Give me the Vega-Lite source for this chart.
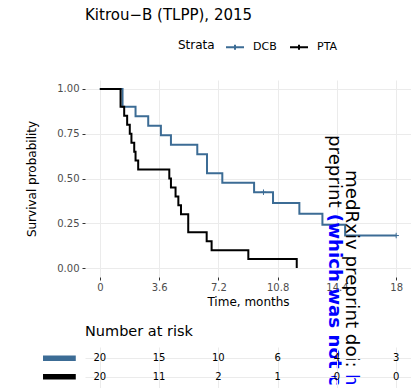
{
  "$schema": "https://vega.github.io/schema/vega-lite/v6.json",
  "padding": {"left": 25, "top": 7, "right": 0, "bottom": 0},
  "bounds": "flush",
  "spacing": 70,
  "background": "white",
  "config": {
    "font": "DejaVu Sans",
    "view": {"stroke": null},
    "axis": {"labelFont": "DejaVu Sans", "titleFont": "DejaVu Sans", "gridColor": "#EBEBEB", "gridWidth": 1, "domain": false, "tickColor": "#333333", "labelColor": "#4D4D4D", "titleColor": "black", "titleFontWeight": "normal"},
    "legend": {"labelFont": "DejaVu Sans", "titleFont": "DejaVu Sans"},
    "title": {"font": "DejaVu Sans"},
    "text": {"font": "DejaVu Sans"}
  },
  "datasets": {
    "km": [
      {"strata": "DCB", "time": 0, "surv": 1},
      {"strata": "DCB", "time": 1.38, "surv": 0.9},
      {"strata": "DCB", "time": 2.17, "surv": 0.8471},
      {"strata": "DCB", "time": 2.94, "surv": 0.7941},
      {"strata": "DCB", "time": 3.71, "surv": 0.7412},
      {"strata": "DCB", "time": 4.32, "surv": 0.6882},
      {"strata": "DCB", "time": 5.92, "surv": 0.6353},
      {"strata": "DCB", "time": 6.51, "surv": 0.5294},
      {"strata": "DCB", "time": 7.44, "surv": 0.4765},
      {"strata": "DCB", "time": 9.37, "surv": 0.4235},
      {"strata": "DCB", "time": 10.52, "surv": 0.363},
      {"strata": "DCB", "time": 12.12, "surv": 0.3025},
      {"strata": "DCB", "time": 13.52, "surv": 0.242},
      {"strata": "DCB", "time": 14.9, "surv": 0.1815},
      {"strata": "DCB", "time": 18, "surv": 0.1815},
      {"strata": "PTA", "time": 0, "surv": 1},
      {"strata": "PTA", "time": 1.26, "surv": 0.9},
      {"strata": "PTA", "time": 1.48, "surv": 0.85},
      {"strata": "PTA", "time": 1.66, "surv": 0.8},
      {"strata": "PTA", "time": 1.82, "surv": 0.75},
      {"strata": "PTA", "time": 1.92, "surv": 0.7},
      {"strata": "PTA", "time": 2.09, "surv": 0.65},
      {"strata": "PTA", "time": 2.17, "surv": 0.6},
      {"strata": "PTA", "time": 2.33, "surv": 0.55},
      {"strata": "PTA", "time": 4.22, "surv": 0.5},
      {"strata": "PTA", "time": 4.32, "surv": 0.45},
      {"strata": "PTA", "time": 4.6, "surv": 0.4},
      {"strata": "PTA", "time": 4.77, "surv": 0.35},
      {"strata": "PTA", "time": 4.93, "surv": 0.3},
      {"strata": "PTA", "time": 5.37, "surv": 0.2},
      {"strata": "PTA", "time": 6.49, "surv": 0.15},
      {"strata": "PTA", "time": 6.79, "surv": 0.1},
      {"strata": "PTA", "time": 9.02, "surv": 0.05},
      {"strata": "PTA", "time": 11.96, "surv": 0}
    ],
    "censor": [
      {"strata": "DCB", "time": 9.94, "surv": 0.4235},
      {"strata": "DCB", "time": 18, "surv": 0.1815}
    ],
    "risk": [
      {"strata": "DCB", "time": 0, "n": 20},
      {"strata": "DCB", "time": 3.6, "n": 15},
      {"strata": "DCB", "time": 7.2, "n": 10},
      {"strata": "DCB", "time": 10.8, "n": 6},
      {"strata": "DCB", "time": 14.4, "n": 4},
      {"strata": "DCB", "time": 18, "n": 3},
      {"strata": "PTA", "time": 0, "n": 20},
      {"strata": "PTA", "time": 3.6, "n": 11},
      {"strata": "PTA", "time": 7.2, "n": 2},
      {"strata": "PTA", "time": 10.8, "n": 1},
      {"strata": "PTA", "time": 14.4, "n": 0},
      {"strata": "PTA", "time": 18, "n": 0}
    ]
  },
  "vconcat": [
    {
      "width": 326,
      "height": 197,
      "title": {"text": "Kitrou−B (TLPP), 2015", "anchor": "start", "frame": "group", "fontSize": 15, "fontWeight": "normal", "color": "black", "baseline": "alphabetic", "offset": 45.5},
      "layer": [
        {
          "data": {"name": "km"},
          "mark": {"type": "line", "interpolate": "step-after", "strokeWidth": 2},
          "encoding": {
            "x": {
              "field": "time", "type": "quantitative",
              "scale": {"domain": [-0.9, 18.9], "nice": false, "zero": false},
              "axis": {
                "values": [0, 1.8, 3.6, 5.4, 7.2, 9, 10.8, 12.6, 14.4, 16.2, 18],
                "labelExpr": "indexof([0, 3.6, 7.2, 10.8, 14.4, 18], datum.value) >= 0 ? format(datum.value, '~g') : ''",
                "tickOpacity": {"condition": {"test": "indexof([0, 3.6, 7.2, 10.8, 14.4, 18], datum.value) < 0", "value": 0}, "value": 1},
                "tickSize": 3, "labelPadding": 2, "labelFontSize": 10,
                "title": "Time, months", "titleFontSize": 12, "titlePadding": 4
              }
            },
            "y": {
              "field": "surv", "type": "quantitative",
              "scale": {"domain": [-0.05, 1.05], "nice": false, "zero": false},
              "axis": {
                "values": [0, 0.125, 0.25, 0.375, 0.5, 0.625, 0.75, 0.875, 1],
                "labelExpr": "(datum.value * 4) % 1 == 0 ? format(datum.value, '.2f') : ''",
                "tickOpacity": {"condition": {"test": "(datum.value * 4) % 1 != 0", "value": 0}, "value": 1},
                "tickSize": 3, "labelPadding": 3, "labelFontSize": 10,
                "title": "Survival probability", "titleFontSize": 12, "titlePadding": 18
              }
            },
            "color": {
              "field": "strata", "type": "nominal",
              "scale": {"domain": ["DCB", "PTA"], "range": ["#3C6C95", "#000000"]},
              "legend": {
                "orient": "none", "legendX": 93, "legendY": -43, "direction": "horizontal",
                "title": "Strata", "titleOrient": "left", "titleFontSize": 12, "titleFontWeight": "normal", "titleColor": "black", "titlePadding": 10,
                "labelFontSize": 11, "labelColor": "black", "labelOffset": 8, "columnPadding": 9,
                "symbolType": "M-1,0H1M0,-0.28V0.28", "symbolSize": 324, "symbolStrokeWidth": 2
              }
            }
          }
        },
        {
          "data": {"name": "censor"},
          "mark": {"type": "point", "shape": "M-1,0H1M0,-1V1", "size": 30, "filled": false, "stroke": "#3C6C95", "strokeWidth": 1, "opacity": 1},
          "encoding": {
            "x": {"field": "time", "type": "quantitative"},
            "y": {"field": "surv", "type": "quantitative"}
          }
        },
        {
          "data": {"values": [{"t": "medRxiv preprint doi: "}]},
          "mark": {"type": "text", "angle": 90, "align": "left", "baseline": "alphabetic", "fontSize": 18.2, "color": "black"},
          "encoding": {"text": {"field": "t"}, "x": {"datum": 14.98}, "y": {"datum": 0.547}}
        },
        {
          "data": {"values": [{"t": "https://doi.org/10.1101/2021"}]},
          "mark": {"type": "text", "angle": 90, "align": "left", "baseline": "alphabetic", "fontSize": 18.2, "color": "#0000FF", "limit": 14, "ellipsis": "\u200b"},
          "encoding": {"text": {"field": "t"}, "x": {"datum": 14.98}, "y": {"datum": -0.592}}
        },
        {
          "data": {"values": [{"t": "preprint "}]},
          "mark": {"type": "text", "angle": 90, "align": "left", "baseline": "alphabetic", "fontSize": 18.2, "color": "black"},
          "encoding": {"text": {"field": "t"}, "x": {"datum": 13.93}, "y": {"datum": 0.7426}}
        },
        {
          "data": {"values": [{"t": "(which was not certified by peer review)"}]},
          "mark": {"type": "text", "angle": 90, "align": "left", "baseline": "alphabetic", "fontSize": 18.2, "fontWeight": "bold", "color": "#0000FF", "limit": 175, "ellipsis": "\u200b"},
          "encoding": {"text": {"field": "t"}, "x": {"datum": 13.93}, "y": {"datum": 0.3026}}
        }
      ]
    },
    {
      "width": 326,
      "height": 41,
      "title": {"text": "Number at risk", "anchor": "start", "frame": "group", "fontSize": 14.5, "fontWeight": "normal", "color": "black", "baseline": "alphabetic", "offset": -3},
      "data": {"name": "risk"},
      "layer": [
        {
          "transform": [{"filter": "datum.time == 0"}],
          "mark": {"type": "rule", "strokeWidth": 5.5, "strokeCap": "butt"},
          "encoding": {
            "x": {"datum": -3.45, "type": "quantitative"},
            "x2": {"datum": -1.46},
            "y": {"field": "strata", "type": "nominal"},
            "color": {"field": "strata", "type": "nominal", "scale": {"domain": ["DCB", "PTA"], "range": ["#3C6C95", "#000000"]}, "legend": null}
          }
        },
        {
          "mark": {"type": "text", "fontSize": 10, "color": "black"},
          "encoding": {
            "x": {
              "field": "time", "type": "quantitative",
              "scale": {"domain": [-0.9, 18.9], "nice": false, "zero": false},
              "axis": {"values": [0, 1.8, 3.6, 5.4, 7.2, 9, 10.8, 12.6, 14.4, 16.2, 18], "labels": false, "ticks": false, "domain": false, "title": null, "grid": true}
            },
            "y": {
              "field": "strata", "type": "nominal",
              "scale": {"type": "point", "domain": ["DCB", "PTA"], "padding": 0.6},
              "axis": {"labels": false, "ticks": false, "domain": false, "title": null, "grid": true}
            },
            "text": {"field": "n", "type": "quantitative"}
          }
        }
      ]
    }
  ]
}
